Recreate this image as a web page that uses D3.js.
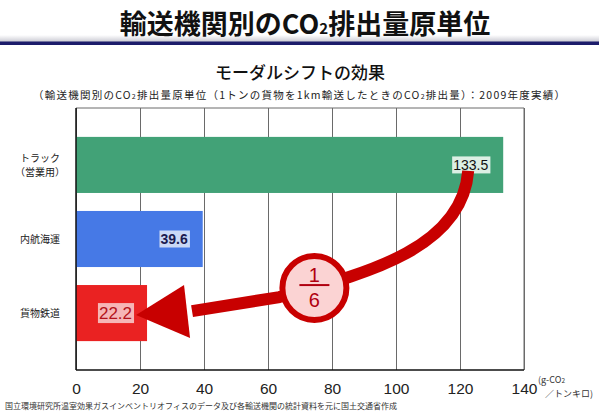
<!DOCTYPE html>
<html>
<head>
<meta charset="utf-8">
<script src="https://cdn.jsdelivr.net/npm/d3@7"></script>
<style>
  body { margin: 0; background: #fff; }
  text { font-family: "Noto Sans CJK JP", "Noto Sans", sans-serif; }
  .num { font-family: "Liberation Sans", Arial, sans-serif; }
</style>
</head>
<body>
<div id="chart"></div>
<script>
// data
const categories = ['トラック', '内航海運', '貨物鉄道'];
const categoryLines = [['トラック', '（営業用）'], ['内航海運'], ['貨物鉄道']];
const values = [133.5, 39.6, 22.2];
const xTicks = [0, 20, 40, 60, 80, 100, 120, 140];

// styles per bar
const barFill = ['#42a277', '#4679e6', '#ea2222'];
const labelBox = ['#dcefe4', '#c9d8f6', '#f6b6b6'];
const labelInk = ['#111', '#1b1b50', '#b3121a'];
const labelSize = [14, 14, 17];
const labelWeight = ['normal', 'bold', 'normal'];

const width = 599, height = 415;
const margin = { left: 76, top: 108, right: 75, bottom: 45 };
const red = '#c80000';

const svg = d3.select('#chart').append('svg')
    .attr('width', width)
    .attr('height', height);

// header
const defs = svg.append('defs');
const grad = defs.append('linearGradient').attr('id', 'shade')
    .attr('x1', 0).attr('y1', 0).attr('x2', 0).attr('y2', 1);
grad.append('stop').attr('offset', 0).attr('stop-color', '#fff');
grad.append('stop').attr('offset', 1).attr('stop-color', '#c9c9d2');
svg.append('rect').attr('x', 0).attr('y', 35).attr('width', width).attr('height', 7).attr('fill', 'url(#shade)');
svg.append('rect').attr('x', 0).attr('y', 41.5).attr('width', width).attr('height', 3.5).attr('fill', '#1c1c6b');

const title = svg.append('text')
    .attr('x', 305).attr('y', 34)
    .attr('text-anchor', 'middle')
    .attr('font-size', 27).attr('font-weight', 'bold').attr('fill', '#111');
title.append('tspan').text('輸送機関別のCO');
title.append('tspan').attr('font-size', 15).text('2');
title.append('tspan').text('排出量原単位');

svg.append('text')
    .attr('x', 300).attr('y', 79)
    .attr('text-anchor', 'middle')
    .attr('font-size', 17).attr('font-weight', 500).attr('fill', '#111')
    .text('モーダルシフトの効果');

const note = svg.append('text')
    .attr('x', 33).attr('y', 99)
    .attr('font-size', 10.5).attr('fill', '#222')
    .attr('textLength', 532).attr('lengthAdjust', 'spacing');
note.append('tspan').text('（輸送機関別のCO');
note.append('tspan').attr('font-size', 7).text('2');
note.append('tspan').text('排出量原単位（1トンの貨物を1km輸送したときのCO');
note.append('tspan').attr('font-size', 7).text('2');
note.append('tspan').text('排出量）：2009年度実績）');

// scales
const x0 = margin.left, x1 = width - margin.right;
const y0 = margin.top, y1 = height - margin.bottom;
const x = d3.scaleLinear().domain([0, 140]).range([x0, x1]);
const y = d3.scaleBand().domain(categories).range([y0, y1])
    .paddingInner(0.243).paddingOuter(0.39);

// grid + axis
const xAxis = svg.append('g')
    .attr('transform', `translate(0,${y1})`)
    .call(d3.axisBottom(x).tickValues(xTicks).tickSize(-(y1 - y0)).tickSizeOuter(0).tickPadding(13));
xAxis.select('.domain').remove();
xAxis.selectAll('.tick line').attr('stroke', '#6a6a6a');
xAxis.selectAll('.tick text')
    .attr('class', 'num')
    .attr('font-size', 15.5).attr('fill', '#222');

svg.append('line').attr('x1', x0).attr('x2', x1).attr('y1', y0).attr('y2', y0).attr('stroke', '#6a6a6a');
svg.append('line').attr('x1', x1).attr('x2', x1).attr('y1', y0).attr('y2', y1).attr('stroke', '#6a6a6a');

// bars
svg.append('g')
    .selectAll('rect').data(values)
    .enter()
    .append('rect')
    .attr('x', x(0))
    .attr('y', (d, i) => y(categories[i]))
    .attr('width', d => x(d) - x(0))
    .attr('height', y.bandwidth())
    .attr('fill', (d, i) => barFill[i]);

svg.append('line').attr('x1', x0).attr('x2', x0).attr('y1', y0).attr('y2', y1).attr('stroke', '#111').attr('stroke-width', 1.5);
svg.append('line').attr('x1', x0).attr('x2', x1).attr('y1', y1).attr('y2', y1).attr('stroke', '#111').attr('stroke-width', 1.5);

// category labels
categories.forEach((c, i) => {
    const lines = categoryLines[i];
    const cy = y(c) + y.bandwidth() / 2;
    lines.forEach((l, k) => {
        svg.append('text')
            .attr('x', 40).attr('text-anchor', 'middle')
            .attr('font-size', 10).attr('fill', '#222')
            .attr('y', cy + 4 + (k - (lines.length - 1) / 2) * 14.5)
            .text(l);
    });
});

// value labels
values.forEach((v, i) => {
    const cy = y(categories[i]) + y.bandwidth() / 2;
    const right = x(v) - 14;
    const g = svg.append('g');
    const t = g.append('text')
        .attr('class', 'num')
        .attr('x', right - 1).attr('y', cy + labelSize[i] * 0.36)
        .attr('text-anchor', 'end')
        .attr('font-size', labelSize[i])
        .attr('font-weight', labelWeight[i])
        .attr('fill', labelInk[i])
        .text(v.toFixed(1));
    const bb = t.node().getBBox();
    g.insert('rect', 'text')
        .attr('x', bb.x - 1).attr('y', cy - bb.height / 2 - 0.5)
        .attr('width', bb.width + 3).attr('height', bb.height + 1)
        .attr('fill', labelBox[i]);
});

// arrow annotation 133.5 -> 22.2
const yTruck = y(categories[0]) + y.bandwidth() / 2;
const yRail = y(categories[2]) + y.bandwidth() / 2;
const cx = x(74.5), cyc = yRail - 25;
const start = [x(133.5) - 35, yTruck + 6];
const tip = [x(22.2) - 11, yRail + 2];
const base = [tip[0] + 51, tip[1] - 4];

svg.append('path')
    .attr('d', `M${start[0]},${start[1]} C${start[0] - 6},${start[1] + 80} ${cx + 45},${cyc - 13} ${cx - 35},${cyc + 9} L${base[0] + 5},${base[1]}`)
    .attr('fill', 'none')
    .attr('stroke', red)
    .attr('stroke-width', 12);
svg.append('path')
    .attr('d', `M${tip[0]},${tip[1]} L${base[0] - 3},${base[1] - 26} L${base[0] + 3},${base[1] + 27} Z`)
    .attr('fill', red);

svg.append('circle')
    .attr('cx', cx).attr('cy', cyc).attr('r', 32)
    .attr('fill', '#fbd3d3')
    .attr('stroke', red).attr('stroke-width', 6);
svg.append('text').attr('class', 'num')
    .attr('x', cx).attr('y', cyc - 6)
    .attr('text-anchor', 'middle').attr('font-size', 20).attr('fill', '#b00010')
    .text('1');
svg.append('line')
    .attr('x1', cx - 15).attr('x2', cx + 15).attr('y1', cyc - 3).attr('y2', cyc - 3)
    .attr('stroke', '#b00010').attr('stroke-width', 2);
svg.append('text').attr('class', 'num')
    .attr('x', cx).attr('y', cyc + 19)
    .attr('text-anchor', 'middle').attr('font-size', 20).attr('fill', '#b00010')
    .text('6');

// unit label
const unit = svg.append('text').attr('font-size', 9).attr('fill', '#333');
unit.append('tspan').attr('x', 538).attr('y', 383).text('(g-CO');
unit.append('tspan').attr('font-size', 6.5).text('2');
svg.append('text').attr('font-size', 9).attr('fill', '#333')
    .attr('x', 545).attr('y', 397).text('／トンキロ)');

// source
svg.append('text')
    .attr('x', 5).attr('y', 409)
    .attr('font-size', 8).attr('fill', '#333')
    .attr('textLength', 392).attr('lengthAdjust', 'spacing')
    .text('国立環境研究所温室効果ガスインベントリオフィスのデータ及び各輸送機関の統計資料を元に国土交通省作成');
</script>
</body>
</html>
